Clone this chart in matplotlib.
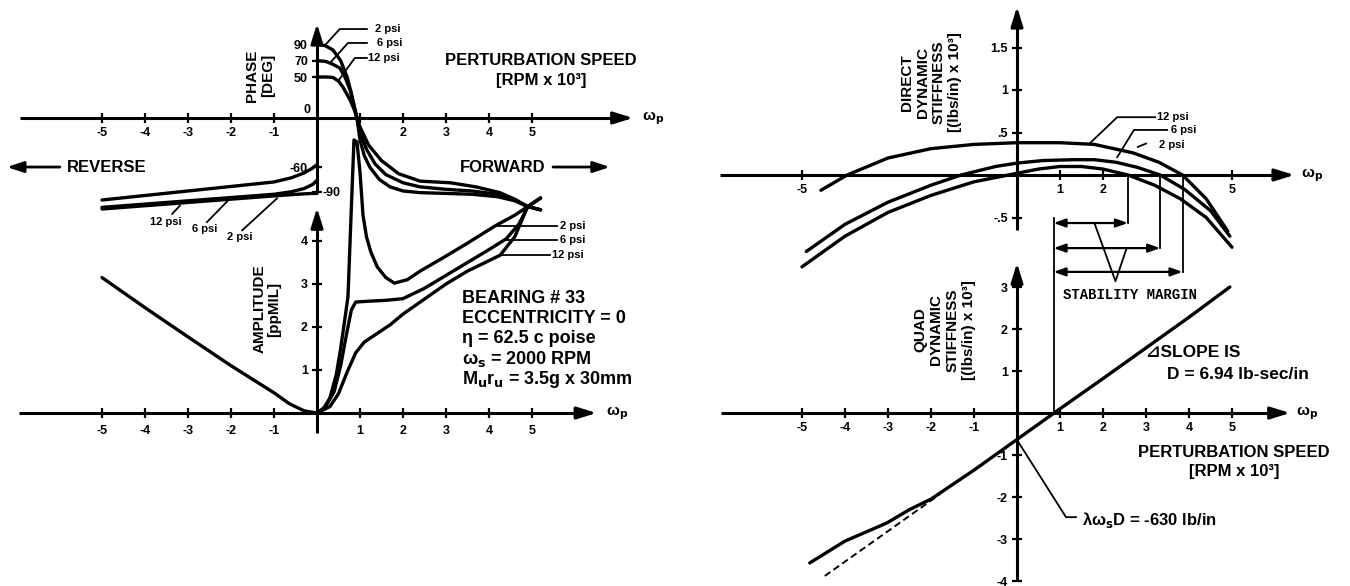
import matplotlib
matplotlib.use("Agg")
import matplotlib.pyplot as plt

plt.rcParams['font.family'] = ['Liberation Sans', 'DejaVu Sans']
plt.rcParams['font.weight'] = 'bold'
plt.rcParams['mathtext.default'] = 'bf'

# ---------------- data (perturbation speed in RPM x 10^3) ----------------
# Phase [deg], reverse (negative) speeds
phase_neg_w = [-5, -4, -3, -2, -1, -0.6, -0.3, -0.1, 0]
phase_neg_12psi = [-100, -94.5, -89, -83.5, -78, -73, -67, -61, -57]
phase_neg_6psi = [-109, -105, -101, -97, -93, -90, -86, -81, -76]
phase_neg_2psi = [-111, -107, -103, -99, -95, -93.5, -92.5, -92, -92]

# Phase [deg], forward (positive) speeds
phase_pos_w_2psi = [0, 0.2, 0.37, 0.55, 0.7, 0.8, 0.88, 0.93, 1.0, 1.1, 1.23, 1.45,
                    1.7, 2.0, 2.4, 3.0, 3.6, 4.2, 4.6, 4.9, 5.2]
phase_pos_2psi = [90, 88, 83, 70, 50, 30, 10, 0, -27, -46, -60, -75,
                  -84, -89, -91, -92, -93, -96, -101, -108, -112]
phase_pos_w_6psi = [0, 0.2, 0.35, 0.53, 0.65, 0.77, 0.86, 0.93, 1.0, 1.15, 1.35, 1.6,
                    2.0, 2.4, 3.0, 3.6, 4.2, 4.6, 4.9, 5.2]
phase_pos_6psi = [70, 69, 66, 61, 50, 34, 16, 0, -17, -38, -56, -69,
                  -79, -84, -87, -89, -93, -100, -108, -112]
phase_pos_w_12psi = [0, 0.2, 0.37, 0.5, 0.6, 0.77, 0.86, 0.93, 1.0, 1.2, 1.5, 1.9,
                     2.4, 3.1, 3.7, 4.25, 4.6, 4.9, 5.2]
phase_pos_12psi = [50, 50, 49.5, 45, 38, 22, 11, 0, -11, -33, -52, -68,
                   -77, -79, -84, -91, -99, -108, -112]

# Amplitude [pp mil]
amp_neg_w = [-5, -4, -3, -2, -1, -0.65, -0.3, 0]
amp_neg = [3.15, 2.45, 1.77, 1.1, 0.47, 0.22, 0.05, 0]
amp_w_2psi = [0, 0.15, 0.3, 0.45, 0.55, 0.65, 0.72, 0.8, 0.86, 0.93, 1.0, 1.07, 1.15,
              1.25, 1.4, 1.6, 1.8, 2.1, 2.4, 3.0, 3.5, 4.14, 4.6, 4.9, 5.2]
amp_2psi = [0, 0.1, 0.35, 0.9, 1.5, 2.2, 2.7, 4.8, 6.35, 6.3, 5.6, 4.6, 4.1,
            3.75, 3.4, 3.15, 3.02, 3.1, 3.3, 3.65, 3.95, 4.35, 4.6, 4.8, 5.0]
amp_w_6psi = [0, 0.2, 0.4, 0.55, 0.7, 0.8, 0.9, 1.2, 1.6, 2.0, 2.5, 3.0, 3.5, 4.0,
              4.4, 4.7, 4.9, 5.2]
amp_6psi = [0, 0.15, 0.5, 1.1, 1.9, 2.4, 2.58, 2.6, 2.62, 2.66, 2.9, 3.2, 3.5, 3.8,
            4.05, 4.4, 4.8, 5.0]
amp_w_12psi = [0, 0.3, 0.5, 0.7, 0.9, 1.1, 1.4, 1.7, 2.0, 2.5, 3.0, 3.5, 4.26, 4.6,
               4.9, 5.2]
amp_12psi = [0, 0.15, 0.45, 0.95, 1.4, 1.65, 1.85, 2.05, 2.3, 2.65, 3.0, 3.3, 3.67, 4.1,
             4.8, 5.0]

# Direct dynamic stiffness [(lbs/in) x 10^3]
dir_w_12psi = [-4.56, -3.95, -3.0, -2.0, -1.0, 0, 1.0, 1.8, 2.7, 3.3, 3.85, 4.4, 4.9]
dir_12psi = [-0.18, 0, 0.2, 0.31, 0.36, 0.38, 0.38, 0.36, 0.26, 0.15, 0, -0.28, -0.66]
dir_w_6psi = [-4.9, -4.0, -3.0, -2.0, -1.3, -0.5, 0, 0.6, 1.3, 1.8, 2.3, 2.8, 3.33,
              3.9, 4.5, 4.95]
dir_6psi = [-0.9, -0.58, -0.32, -0.12, 0, 0.1, 0.14, 0.17, 0.18, 0.18, 0.15, 0.09, 0,
            -0.17, -0.42, -0.72]
dir_w_2psi = [-5.0, -4.0, -3.0, -2.0, -1.0, -0.3, 0, 0.5, 1.0, 1.5, 2.0, 2.58, 3.2,
              3.8, 4.4, 5.0]
dir_2psi = [-1.08, -0.72, -0.44, -0.24, -0.08, -0.01, 0.02, 0.07, 0.1, 0.1, 0.07, 0,
            -0.12, -0.28, -0.5, -0.85]

# Quadrature dynamic stiffness [(lbs/in) x 10^3]
quad_w = [-4.82, -4.0, -3.03, -2.5, -2.0, -1.0, 0, 1.0, 2.0, 3.0, 4.0, 4.95]
quad_solid = [-3.57, -3.05, -2.62, -2.3, -2.05, -1.36, -0.63, 0.1, 0.82, 1.55, 2.28, 3.0]
quad_dash_w = [-4.47, -1.8]
quad_dash = [-3.88, -1.94]

# stability margin: start speed and zero crossings of direct stiffness
margin_start = 0.85
margin_ends = [2.58, 3.33, 3.85]
margin_levels = [-0.565, -0.86, -1.14]

x_ticks = [-5, -4, -3, -2, -1, 1, 2, 3, 4, 5]
x_labels = ['-5', '-4', '-3', '-2', '-1', '1', '2', '3', '4', '5']

# ---------------- layout ----------------
W, H = 1350, 586
fig = plt.figure(figsize=(W / 100, H / 100), dpi=100)
LW = 2.4
K = 'black'


def panel(box, origin, unit):
    x0, y0, x1, y1 = box
    ox, oy = origin
    ux, uy = unit
    ax = fig.add_axes([x0 / W, 1 - y1 / H, (x1 - x0) / W, (y1 - y0) / H])
    ax.set_xlim((x0 - ox) / ux, (x1 - ox) / ux)
    ax.set_ylim((oy - y1) / uy, (oy - y0) / uy)
    ax.patch.set_visible(False)
    ax.spines['top'].set_visible(False)
    ax.spines['right'].set_visible(False)
    for s in ('left', 'bottom'):
        ax.spines[s].set_position(('data', 0))
        ax.spines[s].set_linewidth(2.2)
        ax.spines[s].set_capstyle('butt')
    ax.tick_params(direction='inout', length=7, width=1.6, labelsize=9, pad=3)
    return ax


def axis_arrows(ax, xb, xtip, yb, ytip):
    ax.spines['bottom'].set_bounds(*xb)
    ax.spines['left'].set_bounds(*yb)
    kw = dict(arrowstyle='-|>,head_length=0.9,head_width=0.28', color=K, lw=2.2,
              shrinkA=0, shrinkB=0, mutation_scale=13)
    ax.annotate('', xy=(xtip, 0), xytext=(xb[1], 0), arrowprops=kw, annotation_clip=False)
    ax.annotate('', xy=(0, ytip), xytext=(0, yb[1]), arrowprops=kw, annotation_clip=False)


def curve(ax, x, y, **kw):
    ax.plot(x, y, color=K, lw=kw.pop('lw', LW), solid_capstyle='round',
            solid_joinstyle='round', clip_on=False, **kw)


def leader(ax, xs, ys):
    ax.plot(xs, ys, color=K, lw=1.3, clip_on=False)


# ===== Phase panel =====
ax1 = panel((0, 0, 690, 250), (317, 118), (43, 0.82))
axis_arrows(ax1, (-6.9, 7.0), 7.35, (-90, 100), 115)
ax1.set_xticks(x_ticks, ['-5', '-4', '-3', '-2', '-1', '', '2', '3', '4', '5'])
ax1.set_yticks([90, 70, 50, -60, -90], ['90', '70', '50', '-60', ''])
ax1.text(-0.14, 9.5, '0', ha='right', va='center', fontsize=9)
ax1.text(0.12, -92, '-90', ha='left', va='center', fontsize=9)

for ys in (phase_neg_12psi, phase_neg_6psi, phase_neg_2psi):
    curve(ax1, phase_neg_w, ys)
curve(ax1, phase_pos_w_2psi, phase_pos_2psi)
curve(ax1, phase_pos_w_6psi, phase_pos_6psi)
curve(ax1, phase_pos_w_12psi, phase_pos_12psi)

ax1.text(-1.33, 52, 'PHASE\n[DEG]', rotation=90, ha='center', va='center',
         fontsize=11, linespacing=1.15)
ax1.text(5.21, 70.7, 'PERTURBATION SPEED', ha='center', va='center', fontsize=12)
ax1.text(5.21, 46.3, '[RPM x 10³]', ha='center', va='center', fontsize=12)
ax1.text(7.55, 0, 'ω$_p$', ha='left', va='center', fontsize=11)

# psi labels (forward phase)
leader(ax1, [0.19, 0.53, 1.16], [89, 108.5, 108.5])
leader(ax1, [0.30, 0.72, 1.16], [67, 91.5, 91.5])
leader(ax1, [0.49, 0.88, 1.16], [45, 73.2, 73.2])
ax1.text(1.35, 108.5, '2 psi', ha='left', va='center', fontsize=8)
ax1.text(1.40, 91.5, '6 psi', ha='left', va='center', fontsize=8)
ax1.text(1.19, 73.2, '12 psi', ha='left', va='center', fontsize=8)

# psi labels (reverse phase)
leader(ax1, [-3.37, -3.19], [-117, -107])
leader(ax1, [-2.56, -2.02], [-127, -98])
leader(ax1, [-1.74, -0.93], [-137, -98])
ax1.text(-3.88, -127, '12 psi', ha='left', va='center', fontsize=8)
ax1.text(-2.91, -135.5, '6 psi', ha='left', va='center', fontsize=8)
ax1.text(-2.09, -145, '2 psi', ha='left', va='center', fontsize=8)

arrow_kw = dict(arrowstyle='-|>,head_length=0.9,head_width=0.3', color=K, lw=2.0,
                shrinkA=0, shrinkB=0, mutation_scale=11)
ax1.text(-5.81, -59.8, 'REVERSE', ha='left', va='center', fontsize=12)
ax1.annotate('', xy=(-7.21, -59.8), xytext=(-5.98, -59.8), arrowprops=arrow_kw,
             annotation_clip=False)
ax1.text(3.33, -59.8, 'FORWARD', ha='left', va='center', fontsize=12)
ax1.annotate('', xy=(6.81, -59.8), xytext=(5.49, -59.8), arrowprops=arrow_kw,
             annotation_clip=False)

# ===== Amplitude panel =====
ax2 = panel((0, 120, 690, 480), (317, 413), (43, 43))
axis_arrows(ax2, (-6.93, 6.15), 6.5, (-0.47, 4.4), 4.77)
ax2.set_xticks(x_ticks, x_labels)
ax2.set_yticks([1, 2, 3, 4], ['1', '2', '3', '4'])
ax2.tick_params(axis='x', pad=5)

curve(ax2, amp_neg_w, amp_neg)
curve(ax2, amp_w_2psi, amp_2psi)
curve(ax2, amp_w_6psi, amp_6psi)
curve(ax2, amp_w_12psi, amp_12psi)

ax2.text(-1.17, 2.42, 'AMPLITUDE\n[ppMIL]', rotation=90, ha='center', va='center',
         fontsize=11, linespacing=1.1)
ax2.text(6.72, 0, 'ω$_p$', ha='left', va='center', fontsize=11)

leader(ax2, [4.19, 5.58], [4.35, 4.35])
leader(ax2, [4.37, 5.58], [4.02, 4.02])
leader(ax2, [4.26, 5.42], [3.67, 3.67])
ax2.text(5.65, 4.35, '2 psi', ha='left', va='center', fontsize=8)
ax2.text(5.65, 4.02, '6 psi', ha='left', va='center', fontsize=8)
ax2.text(5.47, 3.67, '12 psi', ha='left', va='center', fontsize=8)

bearing_lines = ['BEARING # 33', 'ECCENTRICITY = 0', 'η = 62.5 c poise',
                 'ω$_s$ = 2000 RPM', 'M$_u$r$_u$ = 3.5g x 30mm']
for i, line in enumerate(bearing_lines):
    ax2.text(3.37, 2.70 - i * 0.465, line, ha='left', va='center_baseline', fontsize=13)

# ===== Direct dynamic stiffness panel =====
ax3 = panel((690, 0, 1350, 300), (1017, 175), (43, 85))
axis_arrows(ax3, (-6.9, 6.1), 6.45, (-0.65, 1.8), 1.98)
ax3.set_xticks([-5, 1, 2, 5], ['-5', '1', '2', '5'])
ax3.set_yticks([1.5, 1, 0.5, -0.5], ['1.5', '1', '.5', '-.5'])

curve(ax3, dir_w_12psi, dir_12psi)
curve(ax3, dir_w_6psi, dir_6psi)
curve(ax3, dir_w_2psi, dir_2psi)

ax3.text(-2.0, 1.09, 'DIRECT\nDYNAMIC\nSTIFFNESS\n[(lbs/in) x 10³]', rotation=90,
         ha='center', va='center', fontsize=11, linespacing=1.2, multialignment='center')
ax3.text(6.6, 0, 'ω$_p$', ha='left', va='center', fontsize=11)

leader(ax3, [1.70, 2.33, 3.21], [0.376, 0.68, 0.68])
leader(ax3, [2.33, 2.72, 3.49], [0.21, 0.53, 0.53])
leader(ax3, [2.81, 3.0], [0.33, 0.37])
ax3.text(3.26, 0.68, '12 psi', ha='left', va='center', fontsize=8)
ax3.text(3.58, 0.53, '6 psi', ha='left', va='center', fontsize=8)
ax3.text(3.30, 0.355, '2 psi', ha='left', va='center', fontsize=8)

dbl_kw = dict(arrowstyle='<|-|>,head_length=0.7,head_width=0.25', color=K, lw=1.6,
              shrinkA=0, shrinkB=0, mutation_scale=10)
for xe, lv in zip(margin_ends, margin_levels):
    ax3.plot([xe, xe], [0, lv], color=K, lw=1.3, clip_on=False)
    ax3.annotate('', xy=(xe, lv), xytext=(margin_start, lv), arrowprops=dbl_kw,
                 annotation_clip=False)
leader(ax3, [1.8, 2.29, 2.55], [-0.565, -1.25, -0.86])
ax3.text(2.63, -1.41, 'STABILITY MARGIN', ha='center', va='center', fontsize=10,
         family='Liberation Mono', fontweight='bold')

# ===== Quadrature dynamic stiffness panel =====
ax4 = panel((690, 250, 1350, 586), (1017, 413), (43, 42))
axis_arrows(ax4, (-6.88, 6.0), 6.35, (-3.98, 3.2), 3.57)
ax4.set_xticks(x_ticks, x_labels)
ax4.set_yticks([3, 2, 1, -1, -2, -3, -4], ['3', '2', '1', '-1', '-2', '-3', '-4'])

curve(ax4, quad_w, quad_solid)
curve(ax4, quad_dash_w, quad_dash, lw=1.4, linestyle=(0, (3.5, 2)))
ax4.plot([margin_start, margin_start], [0, 4.64], color=K, lw=1.3, clip_on=False)

ax4.text(-1.69, 1.98, 'QUAD\nDYNAMIC\nSTIFFNESS\n[(lbs/in) x 10³]', rotation=90,
         ha='center', va='center', fontsize=11, linespacing=1.2, multialignment='center')
ax4.text(6.5, 0, 'ω$_p$', ha='left', va='center', fontsize=11)
ax4.text(3.0, 1.43, '⊿SLOPE IS', ha='left', va='center', fontsize=12.5)
ax4.text(3.49, 0.905, 'D = 6.94 lb-sec/in', ha='left', va='center', fontsize=12.5)
ax4.text(5.05, -0.93, 'PERTURBATION SPEED', ha='center', va='center', fontsize=12)
ax4.text(5.05, -1.40, '[RPM x 10³]', ha='center', va='center', fontsize=12)
leader(ax4, [0, 1.14, 1.37], [-0.64, -2.48, -2.48])
ax4.text(1.51, -2.48, 'λω$_s$D = -630 lb/in', ha='left', va='center_baseline', fontsize=12)

fig.savefig('out.png', dpi=100, facecolor='white')
